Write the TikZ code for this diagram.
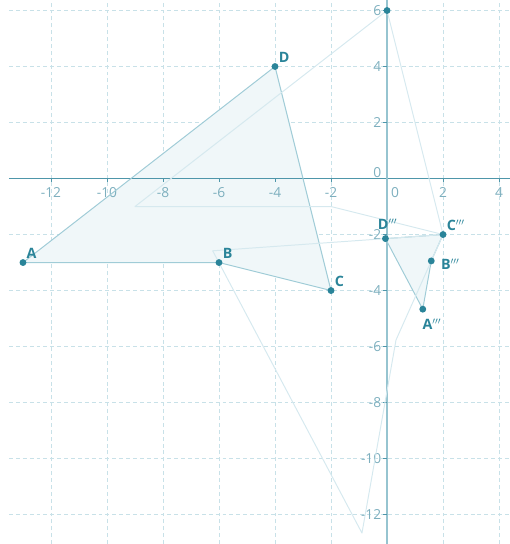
\documentclass[tikz,border=0pt]{standalone}
\usepackage{fontspec}
\setmainfont{Open Sans}
\usepackage{tikz}
\usetikzlibrary{calc,positioning}
\definecolor{gridcol}{RGB}{200,225,232}
\definecolor{axiscol}{RGB}{78,150,170}
\definecolor{yaxiscol}{RGB}{150,196,208}
\definecolor{tickcol}{RGB}{125,175,190}
\definecolor{quadline}{RGB}{160,204,215}
\definecolor{quadfill}{RGB}{240,247,249}
\definecolor{faintcol}{RGB}{214,233,239}
\definecolor{dotcol}{RGB}{42,132,153}

\begin{document}
\begin{tikzpicture}[x=1cm,y=1cm,
  gridline/.style={gridcol, line width=0.8pt, dash pattern=on 4pt off 3pt},
  xaxis/.style={axiscol, line width=1.2pt},
  yaxis/.style={yaxiscol, line width=2pt},
  ticklbl/.style={tickcol, font=\fontsize{14}{16}\selectfont, inner sep=0pt},
  quad/.style={quadline, line width=1pt, line join=round},
  faint/.style={faintcol, line width=1pt, line join=round},
  dot/.style={circle, fill=dotcol, inner sep=0pt, minimum size=7pt},
  ptlbl/.style={dotcol, font=\fontsize{14.5}{16}\selectfont\bfseries, inner sep=1pt}]
  \useasboundingbox (-13.82,-13.05) rectangle (4.39,6.375);

  % Vertices
  \coordinate (A) at (-13,-3);
  \coordinate (B) at (-6,-3);
  \coordinate (C) at (-2,-4);
  \coordinate (D) at (-4,4);
  % translate by (4,2)
  \foreach \p in {A,B,C,D}
    \coordinate (\p1) at ($(\p)+(4,2)$);
  % rotate 80 degrees about C1
  \coordinate (C2) at (C1);
  \foreach \p in {A,B,D}
    \coordinate (\p2) at ($(C1)!1!80:(\p1)$);
  % dilate by 1/4 about C1
  \foreach \p in {A,B,C,D}
    \coordinate (\p3) at ($(C1)!0.25!(\p2)$);

  % Grid
  \foreach \x in {-12,-10,-8,-6,-4,-2,2,4}
    \draw[gridline] (\x,-13.05) -- (\x,6.375);
  \foreach \y in {-12,-10,-8,-6,-4,-2,2,4,6}
    \draw[gridline] (-13.5,\y) -- (4.39,\y);

  % Fills
  \fill[quadfill] (A) -- (B) -- (C) -- (D) -- cycle;
  \fill[quadfill] (A3) -- (B3) -- (C3) -- (D3) -- cycle;

  % Axes
  \draw[xaxis] (-13.5,0) -- (4.39,0);
  \draw[yaxis] (0,-13.05) -- (0,6.375);
  \foreach \x in {-12,-10,-8,-6,-4,-2,2,4} {
    \draw[xaxis, line width=0.8pt] (\x,0) -- (\x,-0.12);
    \node[ticklbl] (xl\x) at (\x,-0.49) {\x};
  }
  \foreach \y in {-12,-10,-8,-6,-4,-2,2,4,6} {
    \draw[xaxis, line width=0.8pt] (0,\y) -- (-0.15,\y);
    \node[ticklbl, anchor=east] (yl\y) at (-0.2,\y) {\y};
  }
  \node[ticklbl] (xl0) at (0.29,-0.49) {0};
  \node[ticklbl, anchor=east] (yl0) at (-0.2,0.23) {0};

  % Figures
  \draw[quad] (A) -- (B) -- (C) -- (D) -- cycle;
  \draw[quad] (A3) -- (B3) -- (C3) -- (D3) -- cycle;
  \draw[faint] (A1) -- (B1) -- (C1) -- (D1) -- cycle;
  \draw[faint] (A2) -- (B2) -- (C2) -- (D2) -- cycle;

  % Points
  \foreach \p in {A,B,C,D}
    \node[dot, label={[ptlbl]45:\p}] (dot\p) at (\p) {};
  \node[dot] (dotD1) at (D1) {};
  \node[dot, label={[ptlbl, xshift=-4pt, yshift=-6pt]-45:A$'''$}] (dotA3) at (A3) {};
  \node[dot, label={[ptlbl, label distance=5pt, yshift=-3pt]0:B$'''$}] (dotB3) at (B3) {};
  \node[dot, label={[ptlbl]45:C$'''$}] (dotC3) at (C3) {};
  \node[dot, label={[ptlbl, label distance=4pt, xshift=2pt]90:D$'''$}] (dotD3) at (D3) {};
\end{tikzpicture}
\end{document}
